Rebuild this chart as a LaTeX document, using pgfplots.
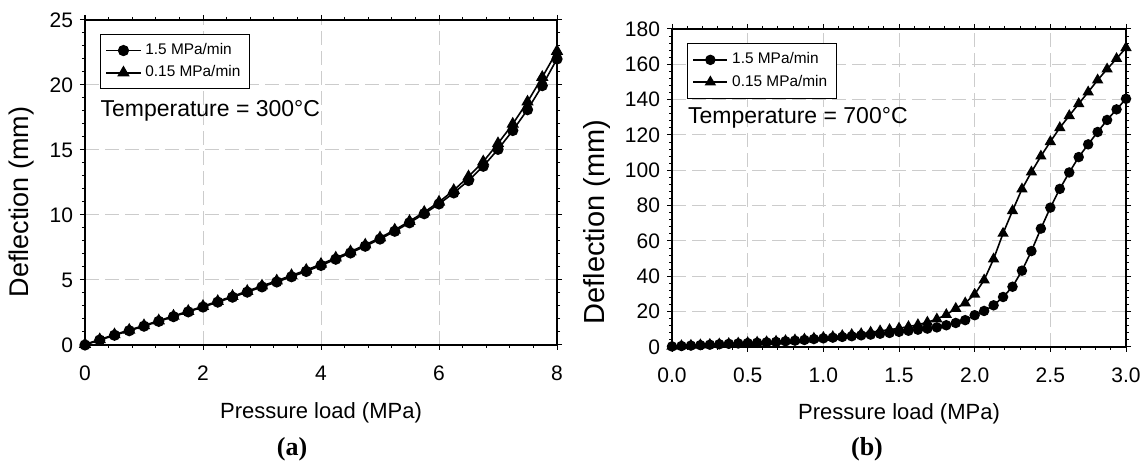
\documentclass[border=0pt]{standalone}
\usepackage{pgfplots}
\pgfplotsset{compat=1.18}
\usepackage{fontspec}
\setmainfont{Liberation Sans}
\newfontfamily\seriffont{Liberation Serif}

\pgfplotstableread{
x y
0 0
0.25 0.38
0.5 0.75
0.75 1.1
1.0 1.45
1.25 1.82
1.5 2.18
1.75 2.55
2.0 2.92
2.25 3.3
2.5 3.68
2.75 4.07
3.0 4.47
3.25 4.85
3.5 5.25
3.75 5.66
4.0 6.12
4.25 6.6
4.5 7.08
4.75 7.6
5.0 8.15
5.25 8.75
5.5 9.4
5.75 10.1
6.0 10.85
6.25 11.7
6.5 12.65
6.75 13.75
7.0 15.05
7.25 16.5
7.5 18.1
7.75 19.95
8.0 22.0
}\Acirc

\pgfplotstableread{
x y
0 0.05
0.25 0.42
0.5 0.8
0.75 1.15
1.0 1.5
1.25 1.87
1.5 2.23
1.75 2.6
2.0 2.98
2.25 3.36
2.5 3.75
2.75 4.14
3.0 4.55
3.25 4.94
3.5 5.35
3.75 5.76
4.0 6.22
4.25 6.7
4.5 7.18
4.75 7.7
5.0 8.25
5.25 8.85
5.5 9.52
5.75 10.22
6.0 11.0
6.25 11.9
6.5 12.95
6.75 14.1
7.0 15.5
7.25 17.0
7.5 18.7
7.75 20.6
8.0 22.6
}\Atri

\pgfplotstableread{
x y
0 0.3
0.0625 0.55
0.125 0.8
0.1875 1.05
0.25 1.3
0.3125 1.55
0.375 1.8
0.4375 2.0
0.5 2.2
0.5625 2.4
0.625 2.65
0.6875 2.9
0.75 3.25
0.8125 3.6
0.875 4.0
0.9375 4.5
1.0 4.9
1.0625 5.3
1.125 5.7
1.1875 6.1
1.25 6.6
1.3125 7.0
1.375 7.5
1.4375 7.95
1.5 8.6
1.5625 9.2
1.625 9.8
1.6875 10.4
1.75 11.1
1.8125 12.3
1.875 13.6
1.9375 15.2
2.0 18.0
2.0625 20.4
2.125 23.6
2.1875 28.3
2.25 34.1
2.3125 43.2
2.375 54.3
2.4375 67.0
2.5 78.9
2.5625 89.5
2.625 98.8
2.6875 107.5
2.75 114.7
2.8125 121.7
2.875 128.5
2.9375 134.5
3.0 140.5
}\Bcirc

\pgfplotstableread{
x y
0 0.4
0.0625 0.65
0.125 0.9
0.1875 1.15
0.25 1.4
0.3125 1.65
0.375 1.9
0.4375 2.15
0.5 2.4
0.5625 2.65
0.625 2.9
0.6875 3.2
0.75 3.55
0.8125 3.95
0.875 4.4
0.9375 4.9
1.0 5.4
1.0625 5.8
1.125 6.4
1.1875 7.0
1.25 7.5
1.3125 8.3
1.375 9.1
1.4375 9.8
1.5 10.6
1.5625 11.5
1.625 12.6
1.6875 14.0
1.75 15.8
1.8125 18.3
1.875 21.8
1.9375 24.9
2.0 29.8
2.0625 37.9
2.125 49.8
2.1875 64.3
2.25 77.1
2.3125 89.4
2.375 99.0
2.4375 108.0
2.5 116.2
2.5625 124.1
2.625 130.9
2.6875 137.7
2.75 144.3
2.8125 151.1
2.875 157.3
2.9375 163.2
3.0 169.4
}\Btri

\pgfplotsset{
  myaxis/.style={
    scale only axis,
    axis line style={black, line width=0.6pt},
    tick align=outside,
    tick pos=both,
    major tick length=2.5pt,
    minor tick length=1.5pt,
    every tick/.style={black, line width=0.5pt},
    grid=major,
    major grid style={gray!40, line width=0.5pt, dash pattern=on 7pt off 3pt},
    tick label style={font=\fontsize{10.5}{12}\selectfont},
    xticklabel style={yshift=-4.5pt},
    xlabel style={font=\fontsize{11}{13}\selectfont, anchor=center},
    ylabel style={anchor=center},
    /pgf/number format/assume math mode=true,
    legend style={font=\fontsize{7.7}{9}\selectfont, draw=black, line width=0.5pt,
      anchor=north west, inner sep=2.5pt, row sep=0pt, cells={anchor=west}},
    legend cell align=left,
    reverse legend,
  },
  circ/.style={black, line width=0.8pt, mark=*, mark size=2.4pt, mark options={solid, fill=black}},
  tri/.style={black, line width=0.8pt, mark=triangle*, mark size=2.8pt, mark options={solid, fill=black}},
}

\begin{document}
\begin{tikzpicture}
\useasboundingbox (0,0) rectangle (572pt,232pt);
\begin{axis}[myaxis,
  at={(42.5pt,59.5pt)}, anchor=south west,
  width=236pt, height=162.5pt,
  xmin=0, xmax=8, ymin=0, ymax=25,
  xtick={0,2,4,6,8}, ytick={0,5,10,15,20,25},
  minor x tick num=4, minor y tick num=4,
  xlabel={Pressure load (MPa)}, ylabel={Deflection (mm)},
  xlabel style={at={(axis description cs:0.5,-0.209)}},
  ylabel style={at={(axis description cs:-0.1335,0.44)}, font=\fontsize{13.5}{15}\selectfont},
  legend style={at={(rel axis cs:0.032,0.957)}},
  clip=false,
]
\addplot[tri] table[x=x,y=y] {\Atri};
\addlegendentry{0.15 MPa/min}
\addplot[circ] table[x=x,y=y] {\Acirc};
\addlegendentry{1.5 MPa/min}
\node[anchor=west, font=\fontsize{11.5}{13}\selectfont] at (rel axis cs:0.018,0.72) {Temperature = 300°C};
\end{axis}

\begin{axis}[myaxis,
  at={(336pt,58.5pt)}, anchor=south west,
  width=227pt, height=159pt,
  xmin=0, xmax=3, ymin=0, ymax=180,
  xtick={0,0.5,1,1.5,2,2.5,3}, ytick={0,20,40,60,80,100,120,140,160,180},
  minor x tick num=4, minor y tick num=4,
  xticklabel style={/pgf/number format/.cd, fixed, fixed zerofill, precision=1},
  xlabel={Pressure load (MPa)}, ylabel={Deflection (mm)},
  xlabel style={at={(axis description cs:0.5,-0.21)}},
  ylabel style={at={(axis description cs:-0.165,0.393)}, font=\fontsize{14.5}{16}\selectfont},
  legend style={at={(rel axis cs:0.033,0.955)}},
  clip=false,
]
\addplot[tri, mark size=2.5pt] table[x=x,y=y] {\Btri};
\addlegendentry{0.15 MPa/min}
\addplot[circ, mark size=2.2pt] table[x=x,y=y] {\Bcirc};
\addlegendentry{1.5 MPa/min}
\node[anchor=west, font=\fontsize{11.5}{13}\selectfont] at (rel axis cs:0.02,0.72) {Temperature = 700°C};
\end{axis}

\node[font=\seriffont\bfseries\fontsize{13}{15}\selectfont] at (146pt,7.5pt) {(a)};
\node[font=\seriffont\bfseries\fontsize{13}{15}\selectfont] at (433.5pt,7.5pt) {(b)};
\end{tikzpicture}
\end{document}
